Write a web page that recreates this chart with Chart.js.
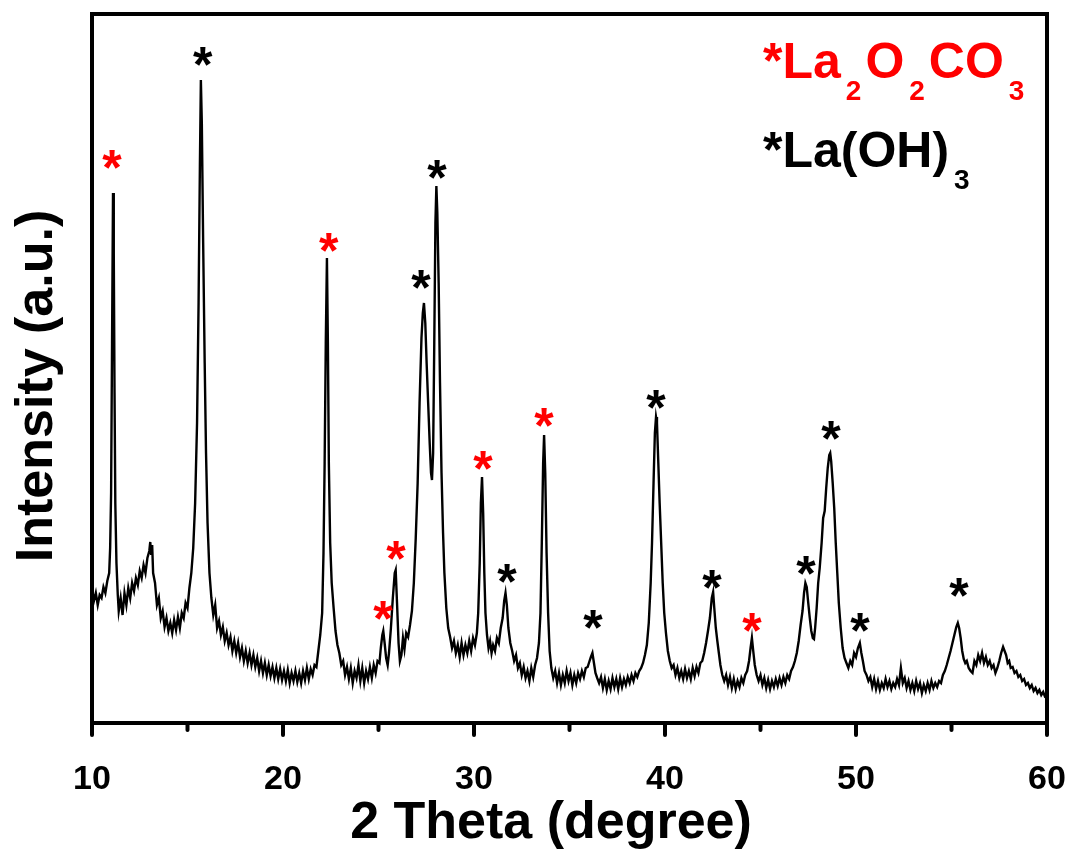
<!DOCTYPE html>
<html>
<head>
<meta charset="utf-8">
<script src="https://cdn.jsdelivr.net/npm/chart.js@4.4.0/dist/chart.umd.min.js"></script>
<style>
  html, body { margin: 0; padding: 0; background: #fff; }
  #wrap { width: 1071px; height: 852px; position: relative; }
</style>
</head>
<body>
<div id="wrap"><canvas id="xrd"></canvas></div>
<script>
// XRD scan: [2 theta (deg), intensity (a.u.)]
const scan = [
  [10.0,135],[10.1,122],[10.2,130],[10.3,118],[10.4,128],[10.5,125],[10.6,136],[10.7,130],[10.8,142],[10.9,150],
  [10.95,175],[11.0,230],[11.05,380],[11.1,530],[11.14,470],[11.18,330],[11.22,220],[11.28,160],[11.35,128],[11.4,112],
  [11.5,125],[11.6,108],[11.7,130],[11.8,118],[11.9,135],[12.0,125],[12.1,140],[12.2,132],[12.3,145],[12.4,138],
  [12.5,152],[12.6,145],[12.7,158],[12.8,150],[12.9,165],[13.0,172],[13.05,181],[13.1,168],[13.15,178],[13.2,150],
  [13.3,140],[13.4,118],[13.5,125],[13.6,105],[13.7,112],[13.8,96],[13.9,105],[14.0,92],[14.1,100],[14.2,90],
  [14.3,103],[14.4,93],[14.5,106],[14.6,95],[14.7,110],[14.8,105],[14.9,120],[15.0,115],[15.1,135],[15.2,150],
  [15.3,175],[15.4,220],[15.5,300],[15.58,420],[15.65,560],[15.7,643],[15.75,600],[15.82,480],[15.9,360],[15.97,270],
  [16.05,200],[16.15,150],[16.25,125],[16.35,108],[16.45,118],[16.55,95],[16.65,102],[16.75,88],[16.85,96],[16.95,82],
  [17.05,90],[17.15,78],[17.25,86],[17.35,72],[17.45,82],[17.55,70],[17.65,80],[17.75,66],[17.85,75],[17.95,62],
  [18.05,72],[18.15,60],[18.25,70],[18.35,58],[18.45,68],[18.55,56],[18.65,65],[18.75,52],[18.85,62],[18.95,50],
  [19.05,60],[19.15,48],[19.25,58],[19.35,47],[19.45,56],[19.55,45],[19.65,55],[19.75,44],[19.85,54],[19.95,43],
  [20.05,52],[20.15,42],[20.25,53],[20.35,40],[20.45,50],[20.55,42],[20.65,52],[20.75,41],[20.85,50],[20.95,40],
  [21.05,52],[21.15,43],[21.25,55],[21.35,44],[21.45,54],[21.55,48],[21.65,58],[21.75,56],[21.85,72],[21.95,88],
  [22.05,110],[22.12,170],[22.18,260],[22.24,380],[22.3,465],[22.35,380],[22.4,260],[22.47,180],[22.55,140],[22.65,115],
  [22.75,92],[22.85,78],[22.95,70],[23.05,58],[23.15,62],[23.25,48],[23.35,56],[23.45,44],[23.55,55],[23.65,40],
  [23.75,52],[23.85,45],[23.95,58],[24.05,42],[24.15,55],[24.25,40],[24.35,52],[24.45,44],[24.55,56],[24.65,45],
  [24.75,58],[24.85,50],[24.95,62],[25.05,60],[25.12,75],[25.2,88],[25.25,92],[25.32,80],[25.4,65],[25.48,58],
  [25.55,70],[25.65,95],[25.75,125],[25.85,150],[25.9,153],[25.97,120],[26.05,80],[26.12,62],[26.2,68],[26.28,85],
  [26.36,74],[26.45,90],[26.55,86],[26.65,98],[26.75,112],[26.85,140],[26.95,185],[27.05,240],[27.15,320],[27.25,385],
  [27.32,410],[27.38,420],[27.45,400],[27.52,360],[27.6,320],[27.68,280],[27.75,250],[27.8,243],[27.86,270],[27.92,380],
  [27.98,500],[28.03,537],[28.08,510],[28.15,440],[28.22,340],[28.3,250],[28.38,190],[28.45,150],[28.55,115],[28.65,95],
  [28.75,86],[28.85,75],[28.95,82],[29.05,70],[29.15,78],[29.25,66],[29.35,80],[29.45,68],[29.55,78],[29.65,70],
  [29.75,82],[29.85,72],[29.95,85],[30.05,78],[30.15,90],[30.22,110],[30.3,160],[30.36,220],[30.42,246],[30.48,210],
  [30.54,150],[30.6,110],[30.68,88],[30.76,75],[30.84,82],[30.92,70],[31.0,78],[31.1,72],[31.2,85],[31.3,80],
  [31.4,95],[31.5,105],[31.58,122],[31.65,130],[31.72,118],[31.8,95],[31.9,80],[32.0,72],[32.1,62],[32.2,68],
  [32.3,55],[32.4,60],[32.5,48],[32.6,56],[32.7,45],[32.8,52],[32.9,42],[33.0,55],[33.1,46],[33.2,58],
  [33.3,65],[33.4,80],[33.48,110],[33.55,180],[33.62,260],[33.67,288],[33.73,250],[33.8,170],[33.88,110],[33.96,72],
  [34.05,55],[34.15,45],[34.25,52],[34.35,40],[34.45,50],[34.55,38],[34.65,48],[34.75,40],[34.85,52],[34.95,42],
  [35.05,50],[35.15,38],[35.25,48],[35.35,40],[35.45,50],[35.55,44],[35.65,52],[35.75,46],[35.85,55],[35.95,56],
  [36.05,62],[36.12,66],[36.2,70],[36.28,60],[36.36,50],[36.45,45],[36.55,40],[36.65,46],[36.75,35],[36.85,44],
  [36.95,33],[37.05,42],[37.15,34],[37.25,45],[37.35,36],[37.45,44],[37.55,34],[37.65,45],[37.75,36],[37.85,44],
  [37.95,38],[38.05,46],[38.15,40],[38.25,48],[38.35,42],[38.45,50],[38.55,46],[38.65,52],[38.75,55],[38.85,60],
  [38.95,68],[39.05,78],[39.15,100],[39.25,140],[39.32,180],[39.4,240],[39.47,290],[39.53,306],[39.58,300],[39.65,260],
  [39.72,220],[39.8,180],[39.88,140],[39.96,110],[40.05,90],[40.15,72],[40.25,62],[40.35,55],[40.45,58],[40.55,48],
  [40.65,55],[40.75,45],[40.85,52],[40.95,44],[41.05,54],[41.15,45],[41.25,52],[41.35,44],[41.45,55],[41.55,47],
  [41.65,56],[41.75,50],[41.85,60],[41.95,62],[42.05,70],[42.15,80],[42.25,92],[42.35,105],[42.45,125],[42.52,131],
  [42.58,115],[42.66,95],[42.74,82],[42.82,70],[42.9,58],[43.0,48],[43.1,42],[43.2,48],[43.3,38],[43.4,46],
  [43.5,35],[43.6,44],[43.7,34],[43.8,42],[43.9,36],[44.0,45],[44.1,40],[44.2,48],[44.3,52],[44.4,62],
  [44.48,75],[44.55,85],[44.62,72],[44.7,58],[44.8,48],[44.9,42],[45.0,48],[45.1,38],[45.2,45],[45.3,35],
  [45.4,43],[45.5,34],[45.6,42],[45.7,36],[45.8,44],[45.9,37],[46.0,45],[46.1,38],[46.2,46],[46.3,40],
  [46.4,48],[46.5,44],[46.6,52],[46.7,56],[46.8,62],[46.9,70],[47.0,82],[47.1,98],[47.2,112],[47.28,130],
  [47.35,140],[47.42,136],[47.5,120],[47.58,105],[47.66,92],[47.74,85],[47.8,84],[47.86,95],[47.94,115],[48.02,140],
  [48.1,155],[48.2,180],[48.28,205],[48.36,212],[48.44,235],[48.52,255],[48.6,268],[48.65,270],[48.7,262],[48.78,240],
  [48.86,215],[48.94,180],[49.02,150],[49.1,120],[49.2,95],[49.3,75],[49.4,65],[49.5,60],[49.6,55],[49.7,62],
  [49.8,58],[49.9,70],[50.0,66],[50.1,75],[50.2,80],[50.28,70],[50.36,62],[50.45,52],[50.55,48],[50.65,42],
  [50.75,46],[50.85,36],[50.95,44],[51.05,34],[51.15,42],[51.25,33],[51.35,40],[51.45,35],[51.55,44],[51.65,36],
  [51.75,42],[51.85,34],[51.95,40],[52.05,36],[52.15,44],[52.25,38],[52.35,55],[52.45,40],[52.55,45],[52.65,35],
  [52.75,42],[52.85,33],[52.95,40],[53.05,32],[53.15,42],[53.25,34],[53.35,40],[53.45,30],[53.55,38],[53.65,32],
  [53.75,40],[53.85,33],[53.95,42],[54.05,35],[54.15,40],[54.25,36],[54.35,42],[54.45,40],[54.55,48],[54.65,52],
  [54.75,58],[54.85,65],[54.95,72],[55.05,80],[55.15,88],[55.25,96],[55.33,100],[55.4,95],[55.48,85],[55.56,72],
  [55.64,64],[55.72,60],[55.8,62],[55.9,55],[56.0,52],[56.1,50],[56.2,62],[56.3,58],[56.4,68],[56.5,62],
  [56.6,70],[56.7,60],[56.8,66],[56.9,58],[57.0,62],[57.1,55],[57.2,58],[57.3,50],[57.4,55],[57.5,62],
  [57.6,70],[57.7,76],[57.78,72],[57.86,68],[57.94,60],[58.02,62],[58.1,55],[58.2,56],[58.3,50],[58.4,52],
  [58.5,46],[58.6,48],[58.7,42],[58.8,44],[58.9,38],[59.0,40],[59.1,35],[59.2,38],[59.3,32],[59.4,35],
  [59.5,30],[59.6,33],[59.7,28],[59.8,31],[59.9,26],[60.0,25]
];

// asterisk markers, [2 theta, height of the mark]
const la2o2co3Marks = [[11.05,566],[22.4,483],[25.23,115],[25.92,175],[30.47,265],[33.66,308],[44.55,103]];
const laoh3Marks = [[15.8,669],[27.23,446],[28.06,556],[31.73,152],[36.23,106],[39.53,326],[42.46,146],
                    [47.38,160],[48.69,295],[50.21,103],[55.39,138]];

const xMajor = [10, 20, 30, 40, 50, 60];
const xMinor = [15, 25, 35, 45, 55];
const xTitle = '2 Theta (degree)';
const yTitle = 'Intensity (a.u.)';

const RED = '#ff0000';
const FONT = '"Liberation Sans", Arial, sans-serif';

// frame, ticks, stars, legend and titles
const decorPlugin = {
  id: 'decor',
  afterDraw(chart) {
    const ctx = chart.ctx;
    const area = chart.chartArea;
    const xs = chart.scales.x, ys = chart.scales.y;
    ctx.save();

    // frame
    ctx.strokeStyle = '#000';
    ctx.lineWidth = 4;
    ctx.strokeRect(area.left, area.top, area.right - area.left, area.bottom - area.top);

    // x tick marks (outward)
    ctx.lineCap = 'round';
    xMajor.forEach(v => {
      const px = xs.getPixelForValue(v);
      ctx.beginPath(); ctx.moveTo(px, area.bottom); ctx.lineTo(px, area.bottom + 12); ctx.stroke();
    });
    xMinor.forEach(v => {
      const px = xs.getPixelForValue(v);
      ctx.beginPath(); ctx.moveTo(px, area.bottom); ctx.lineTo(px, area.bottom + 7); ctx.stroke();
    });

    // peak asterisks
    ctx.font = 'bold 50px ' + FONT;
    ctx.textAlign = 'center';
    ctx.textBaseline = 'alphabetic';
    const star = (list, color) => {
      ctx.fillStyle = color;
      list.forEach(m => {
        ctx.fillText('*', xs.getPixelForValue(m[0]), ys.getPixelForValue(m[1]) + 28);
      });
    };
    star(la2o2co3Marks, RED);
    star(laoh3Marks, '#000');

    // legend text with subscripts
    const drawFormula = (parts, x, y, color) => {
      ctx.fillStyle = color;
      ctx.textAlign = 'left';
      parts.forEach(p => {
        if (p.sub) {
          ctx.font = 'bold 28px ' + FONT;
          x += 5;
          ctx.fillText(p.t, x, y + 22);
          x += ctx.measureText(p.t).width + 4;
        } else {
          ctx.font = 'bold 50px ' + FONT;
          ctx.fillText(p.t, x, y);
          x += ctx.measureText(p.t).width;
        }
      });
    };
    const lx = area.right - 284;
    drawFormula([{t:'*La'},{t:'2',sub:true},{t:'O'},{t:'2',sub:true},{t:'CO'},{t:'3',sub:true}], lx, area.top + 64, RED);
    drawFormula([{t:'*La(OH)'},{t:'3',sub:true}], lx, area.top + 153, '#000');

    // axis titles
    ctx.fillStyle = '#000';
    ctx.font = 'bold 52px ' + FONT;
    ctx.textAlign = 'center';
    ctx.fillText(xTitle, area.left + 459, area.bottom + 115);

    ctx.translate(52, area.top + 372);
    ctx.rotate(-Math.PI / 2);
    ctx.font = 'bold 52px ' + FONT;
    ctx.fillText(yTitle, 0, 0);

    ctx.restore();
  }
};

const ctx = document.getElementById('xrd').getContext('2d');
const xrdChart = new Chart(ctx, {
  type: 'line',
  data: {
    datasets: [{
      data: scan.map(p => ({ x: p[0], y: p[1] })),
      borderColor: '#000',
      borderWidth: 2.4,
      pointRadius: 0,
      tension: 0,
      fill: false
    }]
  },
  options: {
    responsive: true,
    maintainAspectRatio: false,
    animation: false,
    layout: { padding: { left: 92, right: 24, top: 14, bottom: 0 } },
    plugins: {
      legend: { display: false },
      tooltip: { enabled: false }
    },
    scales: {
      x: {
        type: 'linear',
        min: 10,
        max: 60,
        afterFit(scale) {
          scale.height = 129;
          scale.paddingLeft = 0;
          scale.paddingRight = 0;
        },
        grid: { display: false },
        border: { display: false },
        ticks: {
          stepSize: 10,
          color: '#000',
          padding: 28,
          font: { family: FONT, size: 34, weight: 'bold' }
        }
      },
      y: {
        min: 0,
        max: 709,
        afterFit(scale) { scale.width = 0; },
        grid: { display: false },
        border: { display: false },
        ticks: { display: false }
      }
    }
  },
  plugins: [decorPlugin]
});
</script>
</body>
</html>
